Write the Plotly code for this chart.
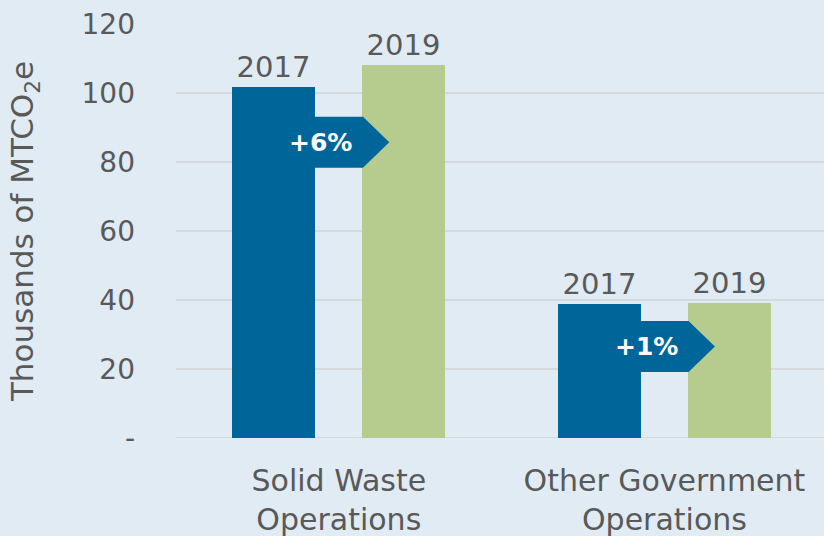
import plotly.graph_objects as go

categories = ["Solid Waste<br>Operations", "Other Government<br>Operations"]
years = ["2017", "2019"]
values_2017 = [101.6, 38.8]
values_2019 = [108.0, 39.2]
change_labels = ["+6%", "+1%"]
arrow_mid = [85.7, 26.5]
y_tickvals = [0, 20, 40, 60, 80, 100, 120]
y_ticktext = ["-", "20", "40", "60", "80", "100", "120"]

BLUE = "#00669A"
GREEN = "#B5CC8E"
BG = "#E1EBF4"
GRID = "#D6D9DC"
TXT = "#595959"
FONT = "DejaVu Sans"

xpos = list(range(len(categories)))
bar_w = 0.255
offsets = [-0.328, 0.071]

fig = go.Figure()
for name, vals, off, col in [(years[0], values_2017, offsets[0], BLUE),
                             (years[1], values_2019, offsets[1], GREEN)]:
    fig.add_trace(go.Bar(
        x=xpos, y=vals, name=name, width=bar_w, offset=off,
        marker=dict(color=col, line=dict(width=0)),
        text=[name] * len(vals), textposition="outside",
        textfont=dict(family=FONT, size=29, color=TXT),
        cliponaxis=False, showlegend=False, hoverinfo="skip",
    ))

# arrows
half_h = 7.4
for i, (mid, lab) in enumerate(zip(arrow_mid, change_labels)):
    x0 = xpos[i] + offsets[0] + bar_w / 2
    xh = xpos[i] + 0.074
    xt = xpos[i] + 0.155
    path = (f"M {x0},{mid - half_h} L {xh},{mid - half_h} L {xt},{mid} "
            f"L {xh},{mid + half_h} L {x0},{mid + half_h} Z")
    fig.add_shape(type="path", path=path, xref="x", yref="y",
                  fillcolor=BLUE, line=dict(width=0), layer="above")
    fig.add_annotation(x=xpos[i] - 0.056, y=mid, text=lab, showarrow=False,
                       font=dict(family=FONT, size=25, color="white", weight="bold"),
                       xref="x", yref="y")

fig.update_layout(
    width=824, height=536,
    margin=dict(l=176, r=0, t=24, b=98),
    paper_bgcolor=BG, plot_bgcolor=BG,
    font=dict(family=FONT, color=TXT),
    bargap=0, barmode="overlay",
)
fig.update_yaxes(
    range=[0, 120], tickvals=y_tickvals, ticktext=y_ticktext,
    showgrid=True, gridcolor=GRID, gridwidth=2, zeroline=False,
    showline=False, tickfont=dict(family=FONT, size=28, color=TXT),
    ticklabelstandoff=40,
    title=dict(text="Thousands of MTCO<sub>2</sub>e",
               font=dict(family=FONT, size=31, color=TXT), standoff=38),
)
fig.update_xaxes(
    range=[-0.5, 1.49], tickvals=xpos, ticktext=categories,
    showgrid=False, zeroline=False, showline=False,
    tickfont=dict(family=FONT, size=30, color=TXT),
    ticklabelstandoff=22,
)
fig.add_hline(y=0, line=dict(color=GRID, width=2), layer="below")
fig.write_html("out.html", config={"displayModeBar": False},
               post_script="document.body.style.margin='0';document.body.style.padding='0';")
